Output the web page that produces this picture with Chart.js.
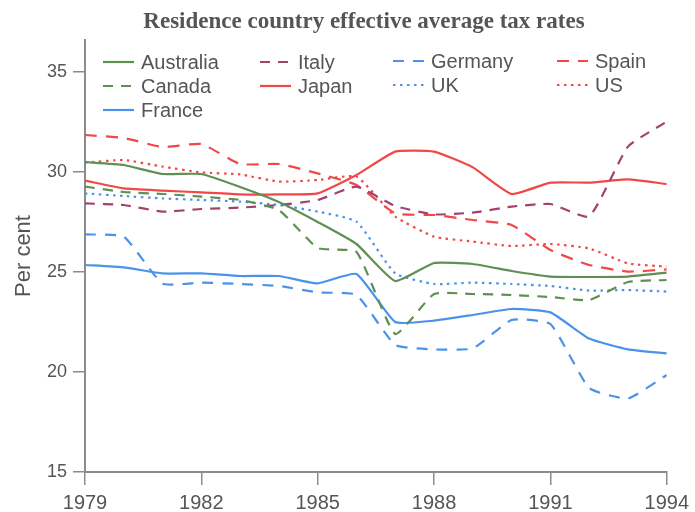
<!DOCTYPE html>
<html>
<head>
<meta charset="utf-8">
<script src="https://cdn.jsdelivr.net/npm/chart.js@4.4.0/dist/chart.umd.min.js"></script>
<style>
  html, body { margin: 0; padding: 0; background: #fff; }
</style>
</head>
<body>
<canvas id="taxRates" width="695" height="512"></canvas>
<script>
const years = [1979, 1980, 1981, 1982, 1983, 1984, 1985, 1986, 1987, 1988, 1989, 1990, 1991, 1992, 1993, 1994]
const xTicks = [1979, 1982, 1985, 1988, 1991, 1994]
const yTicks = [15, 20, 25, 30, 35]

const australia = [30.5, 30.35, 29.9, 29.9, 29.25, 28.5, 27.5, 26.4, 24.55, 25.45, 25.4, 25.05, 24.77, 24.75, 24.77, 24.97]
const canada    = [29.27, 29.0, 28.9, 28.77, 28.6, 28.1, 26.2, 26.0, 21.9, 23.9, 23.9, 23.85, 23.75, 23.6, 24.5, 24.6]
const france    = [25.35, 25.23, 24.93, 24.93, 24.8, 24.8, 24.43, 24.9, 22.5, 22.57, 22.85, 23.15, 22.98, 21.67, 21.13, 20.93]
const germany   = [26.88, 26.77, 24.42, 24.47, 24.4, 24.3, 23.98, 23.85, 21.35, 21.13, 21.18, 22.6, 22.4, 19.2, 18.68, 19.85]
const italy     = [28.43, 28.35, 28.02, 28.15, 28.22, 28.35, 28.6, 29.27, 28.3, 27.88, 27.97, 28.27, 28.4, 27.77, 31.27, 32.52]
const japan     = [29.57, 29.18, 29.07, 28.98, 28.88, 28.88, 28.93, 29.85, 31.02, 31.02, 30.23, 28.9, 29.47, 29.47, 29.63, 29.4]
const spain     = [31.85, 31.7, 31.25, 31.4, 30.4, 30.4, 29.93, 29.35, 27.93, 27.85, 27.6, 27.35, 26.1, 25.35, 25.02, 25.13]
const uk        = [28.93, 28.8, 28.68, 28.6, 28.52, 28.35, 28.02, 27.52, 24.93, 24.4, 24.47, 24.4, 24.3, 24.07, 24.1, 24.02]
const us        = [30.47, 30.6, 30.27, 29.98, 29.88, 29.52, 29.6, 29.77, 27.77, 26.77, 26.52, 26.3, 26.4, 26.18, 25.43, 25.27]

const GREEN = '#5f8f52'
const RED = '#f04848'
const BLUE = '#4b93ea'
const PURPLE = '#a3416f'
const TEXT = '#555555'
const AXIS = '#8c8c8c'

const DASH = [10, 8]
const DOT = [2.5, 4.5]

function series(label, values, color, dash) {
  return {
    label: label,
    data: years.map((y, i) => ({ x: y, y: values[i] })),
    borderColor: color,
    backgroundColor: color,
    borderWidth: 2.2,
    borderDash: dash,
    pointRadius: 0,
    tension: 0.15
  }
}

// legend slots, by column like the original figure
const legendSlots = [
  { x: 103, y: 62 }, { x: 103, y: 86 }, { x: 103, y: 110 },
  { x: 260, y: 62 }, { x: 260, y: 86 },
  { x: 393, y: 61 }, { x: 393, y: 85 },
  { x: 557, y: 61 }, { x: 557, y: 85 }
]

const legendPlugin = {
  id: 'columnLegend',
  afterDraw(chart) {
    const ctx = chart.ctx
    ctx.save()
    chart.data.datasets.forEach((ds, i) => {
      const s = legendSlots[i]
      ctx.strokeStyle = ds.borderColor
      ctx.lineWidth = 2.2
      ctx.setLineDash(ds.borderDash || [])
      ctx.beginPath()
      ctx.moveTo(s.x, s.y)
      ctx.lineTo(s.x + 31, s.y)
      ctx.stroke()
      ctx.setLineDash([])
      ctx.fillStyle = TEXT
      ctx.font = '20px "Liberation Sans", Arial, sans-serif'
      ctx.textBaseline = 'middle'
      ctx.textAlign = 'left'
      ctx.fillText(ds.label, s.x + 38, s.y + 1)
    })
    ctx.restore()
  }
}

const titlePlugin = {
  id: 'figTitle',
  afterDraw(chart) {
    const ctx = chart.ctx
    ctx.save()
    ctx.fillStyle = TEXT
    ctx.font = 'bold 23px "Liberation Serif", "Times New Roman", serif'
    ctx.textAlign = 'center'
    ctx.textBaseline = 'alphabetic'
    ctx.fillText('Residence country effective average tax rates', 364, 28)
    ctx.restore()
  }
}

const canvas = document.getElementById('taxRates')
// eslint-disable-next-line no-unused-vars
const taxChart = new Chart(canvas, {
  type: 'line',
  data: {
    datasets: [
      series('Australia', australia, GREEN, []),
      series('Canada', canada, GREEN, DASH),
      series('France', france, BLUE, []),
      series('Italy', italy, PURPLE, DASH),
      series('Japan', japan, RED, []),
      series('Germany', germany, BLUE, [11, 9]),
      series('UK', uk, BLUE, DOT),
      series('Spain', spain, RED, [12, 9]),
      series('US', us, RED, DOT)
    ]
  },
  plugins: [legendPlugin, titlePlugin],
  options: {
    responsive: false,
    animation: false,
    layout: {
      padding: { top: 40, right: 22, left: 0, bottom: 0 }
    },
    plugins: {
      legend: { display: false },
      title: { display: false },
      tooltip: { enabled: false }
    },
    scales: {
      x: {
        type: 'linear',
        min: 1979,
        max: 1994,
        afterBuildTicks: (scale) => { scale.ticks = xTicks.map(v => ({ value: v })) },
        afterFit: (scale) => { scale.height = 40 },
        border: { display: true, color: AXIS, width: 2 },
        grid: { display: true, drawOnChartArea: false, drawTicks: true, tickLength: 13, color: AXIS, lineWidth: 1.5 },
        ticks: {
          color: TEXT,
          padding: 6,
          maxRotation: 0,
          autoSkip: false,
          font: { family: '"Liberation Sans", Arial, sans-serif', size: 20 },
          callback: (v) => String(v)
        }
      },
      y: {
        min: 15,
        max: 36.6,
        afterBuildTicks: (scale) => { scale.ticks = yTicks.map(v => ({ value: v })) },
        afterFit: (scale) => { scale.width = 85 },
        border: { display: true, color: AXIS, width: 2 },
        grid: { display: true, drawOnChartArea: false, drawTicks: true, tickLength: 12, color: AXIS, lineWidth: 1.5 },
        title: {
          display: true,
          text: 'Per cent',
          color: TEXT,
          padding: { top: 11, bottom: 0 },
          font: { family: '"Liberation Sans", Arial, sans-serif', size: 22 }
        },
        ticks: {
          color: TEXT,
          padding: 6,
          font: { family: '"Liberation Sans", Arial, sans-serif', size: 18 }
        }
      }
    }
  }
})
</script>
</body>
</html>
